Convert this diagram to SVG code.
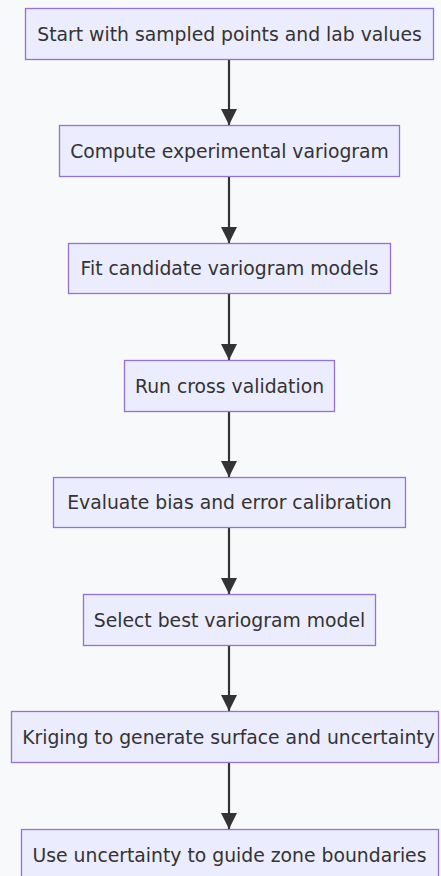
<svg xmlns="http://www.w3.org/2000/svg" width="441" height="876" viewBox="0 0 441 876">
  <style>
    .node rect { fill: #ECECFF; stroke: #9370DB; stroke-width: 1.3; }
    .node text { font-family: "DejaVu Sans", Verdana, sans-serif; font-size: 18.8px; fill: #333333; text-anchor: middle; dominant-baseline: central; }
    .edge { stroke: #333333; stroke-width: 2.2; fill: none; }
  </style>
  <defs>
    <marker id="arrowEnd" viewBox="0 0 10 10" refX="10" refY="5" markerWidth="7.5" markerHeight="7.5" markerUnits="strokeWidth" orient="auto">
      <path d="M0,0 L10,5 L0,10 z" fill="#333333"/>
    </marker>
  </defs>
  <rect width="441" height="876" fill="#F8F9FA"/>

  <g id="connectors">
    <line class="edge" x1="229" y1="59" x2="229" y2="125" marker-end="url(#arrowEnd)"/>
    <line class="edge" x1="229" y1="176" x2="229" y2="243" marker-end="url(#arrowEnd)"/>
    <line class="edge" x1="229" y1="293" x2="229" y2="360" marker-end="url(#arrowEnd)"/>
    <line class="edge" x1="229" y1="411" x2="229" y2="477" marker-end="url(#arrowEnd)"/>
    <line class="edge" x1="229" y1="527" x2="229" y2="594" marker-end="url(#arrowEnd)"/>
    <line class="edge" x1="229" y1="645" x2="229" y2="711" marker-end="url(#arrowEnd)"/>
    <line class="edge" x1="229" y1="762" x2="229" y2="829" marker-end="url(#arrowEnd)"/>
  </g>

  <g id="start" class="node">
    <rect x="25.5" y="8.5" width="408" height="51"/>
    <text x="229.5" y="34">Start with sampled points and lab values</text>
  </g>
  <g id="variogram" class="node">
    <rect x="59.5" y="125.5" width="340" height="51"/>
    <text x="229.5" y="151">Compute experimental variogram</text>
  </g>
  <g id="fit" class="node">
    <rect x="68.5" y="243.5" width="322" height="50"/>
    <text x="229.5" y="268.5">Fit candidate variogram models</text>
  </g>
  <g id="crossval" class="node">
    <rect x="124.5" y="360.5" width="210" height="51"/>
    <text x="229.5" y="386">Run cross validation</text>
  </g>
  <g id="evaluate" class="node">
    <rect x="53.5" y="477.5" width="352" height="50"/>
    <text x="229.5" y="502.5">Evaluate bias and error calibration</text>
  </g>
  <g id="select" class="node">
    <rect x="83.5" y="594.5" width="292" height="51"/>
    <text x="229.5" y="620">Select best variogram model</text>
  </g>
  <g id="kriging" class="node">
    <rect x="11.5" y="711.5" width="427" height="51"/>
    <text x="228.5" y="737">Kriging to generate surface and uncertainty</text>
  </g>
  <g id="zones" class="node">
    <rect x="21.5" y="829.5" width="417" height="51"/>
    <text x="229.5" y="855">Use uncertainty to guide zone boundaries</text>
  </g>
</svg>
